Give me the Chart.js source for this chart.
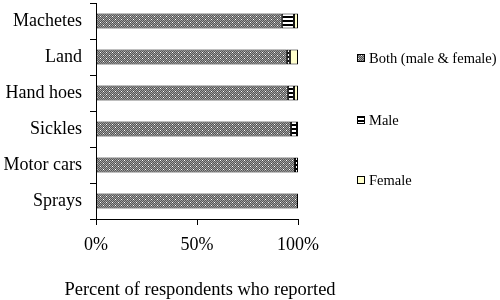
<!DOCTYPE html>
<html>
<head>
<meta charset="utf-8">
<script src="https://cdn.jsdelivr.net/npm/chart.js@4"></script>
<style>
  html, body { margin: 0; padding: 0; background: #fff; }
  #wrap { width: 500px; height: 300px; }
</style>
</head>
<body>
<div id="wrap"><canvas id="chartTools"></canvas></div>
<script>
const categories = ['Machetes', 'Land', 'Hand hoes', 'Sickles', 'Motor cars', 'Sprays']
const bothValues = [92, 94.5, 95, 96.5, 98.5, 100]
const maleValues = [6, 1.5, 3, 3, 1.5, 0]
const femaleValues = [2, 4, 2, 0.5, 0, 0]
const seriesNames = ['Both (male & female)', 'Male', 'Female']
const tickLabels = ['0%', '50%', '100%']
const axisTitle = 'Percent of respondents who reported'

// little canvas tiles for the hatch fills
function makePattern(w, h, draw) {
  const c = document.createElement('canvas')
  c.width = w
  c.height = h
  draw(c.getContext('2d'))
  return document.getElementById('chartTools').getContext('2d').createPattern(c, 'repeat')
}

const dotted = makePattern(6, 6, (g) => {
  for (let y = 0; y < 6; y++) {
    for (let x = 0; x < 6; x++) {
      g.fillStyle = (x + y) % 2 ? '#555555' : '#a0a0a0'
      g.fillRect(x, y, 1, 1)
    }
  }
  g.fillStyle = '#ffffff'
  g.fillRect(1, 1, 1, 1)
  g.fillRect(4, 4, 1, 1)
})

const striped = makePattern(4, 4, (g) => {
  g.fillStyle = '#ffffff'
  g.fillRect(0, 0, 4, 4)
  g.fillStyle = '#000000'
  g.fillRect(0, 0, 4, 2)
})

const fills = [dotted, striped, '#ffffcc']

// legend on the right + the x title (the built-in title gets squeezed to the axis width)
const legendPos = [58, 120, 180]
const sideLegend = {
  id: 'sideLegend',
  afterDraw(chart) {
    const ctx = chart.ctx
    ctx.save()
    ctx.font = '14.5px "Liberation Serif", serif'
    ctx.textBaseline = 'middle'
    seriesNames.forEach((name, i) => {
      const y = legendPos[i]
      ctx.fillStyle = fills[i]
      ctx.fillRect(357, y - 4, 8, 8)
      ctx.strokeStyle = '#000'
      ctx.lineWidth = 1
      ctx.strokeRect(357.5, y - 3.5, 7, 7)
      ctx.fillStyle = '#000'
      ctx.fillText(name, 369, y + 1)
    })
    ctx.font = '18.5px "Liberation Serif", serif'
    ctx.textAlign = 'center'
    ctx.fillText(axisTitle, 200, 290)
    ctx.restore()
  }
}

const datasets = [bothValues, maleValues, femaleValues].map((vals, i) => ({
  label: seriesNames[i],
  data: vals,
  backgroundColor: fills[i],
  borderColor: '#000',
  borderWidth: 1,
  borderSkipped: false,
  barPercentage: 0.42,
  categoryPercentage: 1
}))

new Chart(document.getElementById('chartTools'), {
  type: 'bar',
  data: { labels: categories, datasets: datasets },
  options: {
    indexAxis: 'y',
    responsive: true,
    maintainAspectRatio: false,
    animation: false,
    layout: { padding: { top: 3, right: 202, left: 0, bottom: 0 } },
    plugins: { legend: { display: false }, tooltip: { enabled: false } },
    scales: {
      x: {
        stacked: true,
        min: 0,
        max: 100,
        afterFit: (s) => { s.height = 81 },
        afterBuildTicks: (s) => { s.ticks = [{value: 0}, {value: 50}, {value: 100}] },
        border: { color: '#000', width: 1 },
        grid: { drawOnChartArea: false, drawTicks: true, tickLength: 6, color: '#000' },
        ticks: {
          color: '#000',
          padding: 9,
          maxRotation: 0,
          font: { family: 'Liberation Serif', size: 18 },
          callback: (v) => tickLabels[[0, 50, 100].indexOf(v)]
        }
      },
      y: {
        stacked: true,
        afterFit: (s) => {
          s.width = 96
          s.paddingTop = 0
          s.paddingBottom = 0
        },
        border: { color: '#000', width: 1 },
        grid: { drawOnChartArea: false, drawTicks: true, tickLength: 6, color: '#000', offset: true },
        ticks: {
          color: '#000',
          padding: 8,
          font: { family: 'Liberation Serif', size: 18 }
        }
      }
    }
  },
  plugins: [sideLegend]
})
</script>
</body>
</html>
